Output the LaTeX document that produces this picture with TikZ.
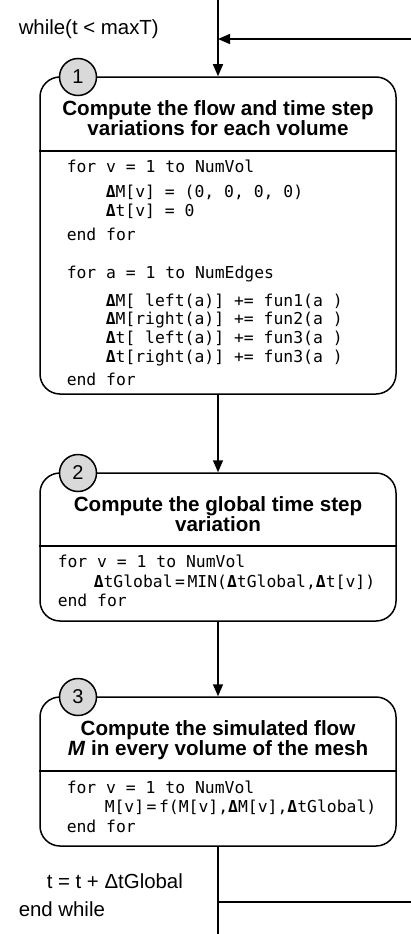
\documentclass[tikz,border=0pt]{standalone}
\usepackage{fontspec}
\setmainfont{Liberation Sans}
\newfontfamily\codefont{DejaVu Sans Mono}
\usetikzlibrary{arrows.meta}
% bold delta used in the pseudo-code
\newcommand\dlt{{\bfseries Δ}}
\newcommand\eqsp{\hspace{2.5pt}}
\begin{document}
\begin{tikzpicture}[x=1pt,y=-1pt,
  line width=1.5pt,
  arr/.style={-{Triangle[length=12pt,width=10pt]}},
  box/.style={draw, rounded corners=20pt, minimum width=356pt, inner sep=0pt},
  num/.style={draw, circle, fill=gray!30, minimum size=37pt, inner sep=0pt,
              font=\fontsize{20}{20}\selectfont},
  ttl/.style={anchor=base, inner sep=0pt,
              font=\fontsize{20.6}{22}\selectfont\bfseries},
  code/.style={anchor=base west, inner sep=0pt,
               font=\fontsize{16.4}{18}\selectfont\codefont},
  lbl/.style={anchor=base west, inner sep=0pt,
              font=\fontsize{20.4}{22}\selectfont}]
\useasboundingbox (0,0) rectangle (411,934);

% the three processing stages
\node[box, minimum height=317pt] (b1) at (218,235.5) {};
\node[box, minimum height=148pt] (b2) at (218,547) {};
\node[box, minimum height=149pt] (b3) at (218,771.5) {};

% header / body separators
\draw (b1.west |- 0,151) -- (b1.east |- 0,151);
\draw (b2.west |- 0,546) -- (b2.east |- 0,546);
\draw (b3.west |- 0,771) -- (b3.east |- 0,771);

% step numbers
\node[num] (n1) at (78,77) {1};
\node[num] (n2) at (78,473) {2};
\node[num] (n3) at (78,697) {3};

% stage titles
\node[ttl] (t1a) at (218,115.5) {Compute the flow and time step};
\node[ttl] (t1b) at (218,135) {variations for each volume};
\node[ttl] (t2a) at (218,511.5) {Compute the global time step};
\node[ttl] (t2b) at (218,531) {variation};
\node[ttl] (t3a) at (218,735) {Compute the simulated flow};
\node[ttl] (t3b) at (218,755) {\textit{M} in every volume of the mesh};

% stage 1 body
\node[code] (c1a) at (66,172) {for v = 1 to NumVol};
\node[code] (c1b) at (105,197) {\dlt M[v] = (0, 0, 0, 0)};
\node[code] (c1c) at (105,216) {\dlt t[v] = 0};
\node[code] (c1d) at (66,240) {end for};
\node[code] (c1e) at (66,278) {for a = 1 to NumEdges};
\node[code] (c1f) at (105,306) {\dlt M[ left(a)] += fun1(a )};
\node[code] (c1g) at (105,324) {\dlt M[right(a)] += fun2(a )};
\node[code] (c1h) at (105,343) {\dlt t[ left(a)] += fun3(a )};
\node[code] (c1i) at (105,362) {\dlt t[right(a)] += fun3(a )};
\node[code] (c1j) at (66,385) {end for};

% stage 2 body
\node[code] (c2a) at (57,567) {for v = 1 to NumVol};
\node[code] (c2b) at (93,587) {\dlt tGlobal\eqsp=\eqsp MIN(\dlt tGlobal,\dlt t[v])};
\node[code] (c2c) at (57,606) {end for};

% stage 3 body
\node[code] (c3a) at (66,793) {for v = 1 to NumVol};
\node[code] (c3b) at (104,812) {M[v]\eqsp=\eqsp f(M[v],\dlt M[v],\dlt tGlobal)};
\node[code] (c3c) at (66,832) {end for};

% loop labels
\node[lbl] (lw) at (18,35) {while(t < maxT)};
\node[lbl] (lt) at (46,888) {t = t + ΔtGlobal};
\node[lbl] (le) at (18,916) {end while};

% control flow
\coordinate (top) at (218,0);
\coordinate (bot) at (218,934);
\coordinate (jin) at (218,39);
\coordinate (rin) at (411,39);
\coordinate (jout) at (218,902);
\coordinate (rout) at (411,902);

\draw[arr] (top) -- (b1.north);
\draw[arr] (rin) -- (jin);
\draw[arr] (b1.south) -- (b2.north);
\draw[arr] (b2.south) -- (b3.north);
\draw (b3.south) -- (bot);
\draw (jout) -- (rout);
\end{tikzpicture}
\end{document}
